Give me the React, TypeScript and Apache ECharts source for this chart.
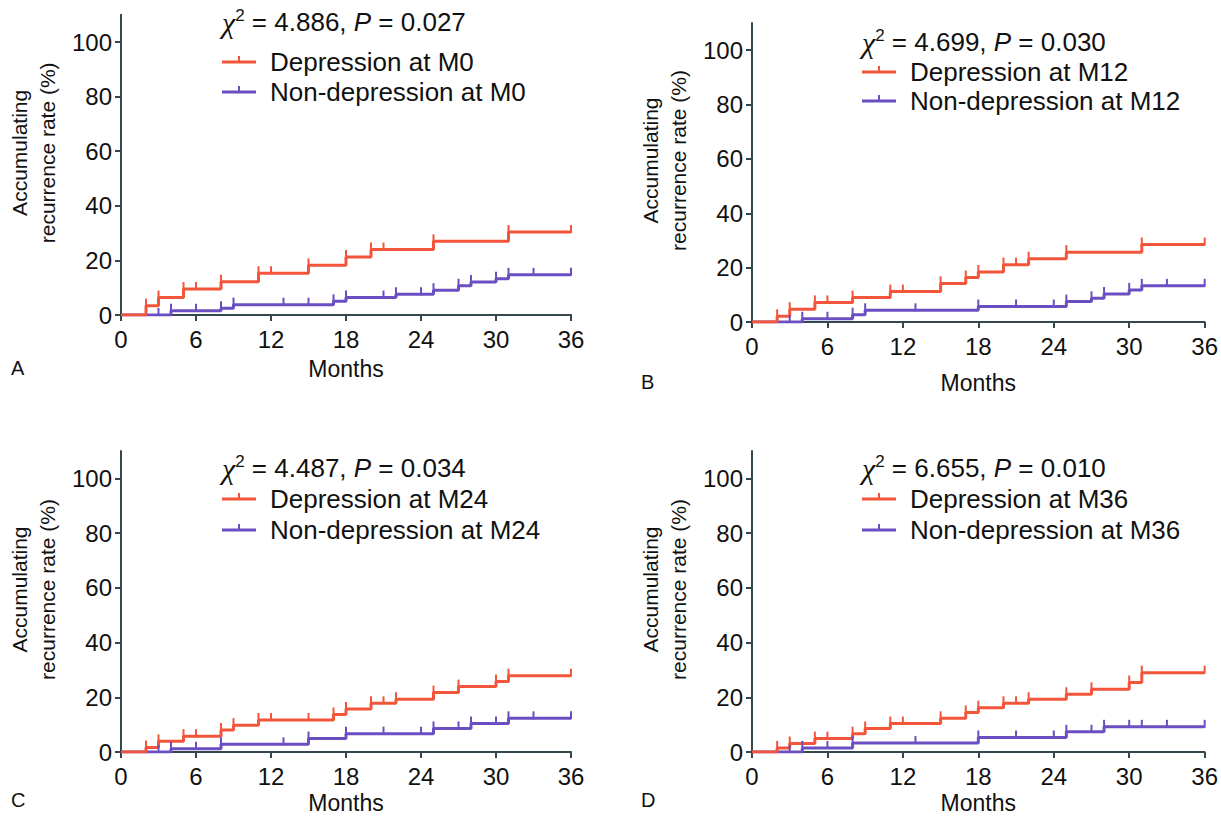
import React, { useEffect, useRef } from "react";
import * as echarts from "echarts";

// ---------- data (months, cumulative recurrence %) ----------
const xTicks = [0, 6, 12, 18, 24, 30, 36];
const yTicks = [0, 20, 40, 60, 80, 100];

const aDepT = [2, 3, 5, 8, 11, 15, 18, 20, 25, 31];
const aDepV = [3.4, 6.4, 9.5, 12.2, 15.3, 18.2, 21.2, 24, 27, 30.4];
const aDepC = [6, 12, 21, 36];
const aNonT = [4, 8, 9, 17, 18, 22, 25, 27, 28, 30, 31];
const aNonV = [1.6, 2.5, 3.8, 5, 6.4, 7.6, 9.1, 10.7, 12.1, 13.3, 14.7];
const aNonC = [3, 6, 13, 15, 21, 24, 33, 36];

const bDepT = [2, 3, 5, 8, 11, 15, 17, 18, 20, 22, 25, 31];
const bDepV = [2.1, 4.7, 7.2, 9, 11.2, 14.2, 16.4, 18.4, 21.1, 23.3, 25.7, 28.5];
const bDepC = [6, 12, 21, 36];
const bNonT = [4, 8, 9, 18, 25, 27, 28, 30, 31];
const bNonV = [1.2, 2.7, 4.3, 5.7, 7.5, 8.7, 10.3, 11.8, 13.3];
const bNonC = [3, 6, 13, 21, 24, 33, 36];

const cDepT = [2, 3, 5, 8, 9, 11, 17, 18, 20, 22, 25, 27, 30, 31];
const cDepV = [1.6, 3.9, 5.8, 8, 9.8, 11.7, 13.7, 15.7, 17.8, 19.3, 21.7, 23.9, 25.8, 27.9];
const cDepC = [6, 12, 15, 21, 36];
const cNonT = [4, 8, 15, 18, 25, 28, 31];
const cNonV = [1.2, 2.8, 4.9, 6.7, 8.6, 10.4, 12.3];
const cNonC = [3, 6, 13, 21, 24, 27, 30, 33, 36];

const dDepT = [2, 3, 5, 8, 9, 11, 15, 17, 18, 20, 22, 25, 27, 30, 31];
const dDepV = [1.5, 3.1, 4.9, 6.7, 8.6, 10.4, 12.3, 14.4, 16.2, 17.8, 19.3, 21.1, 22.9, 25.4, 29];
const dDepC = [6, 12, 21, 36];
const dNonT = [4, 8, 18, 25, 28];
const dNonV = [1.5, 3.3, 5.3, 7.4, 9.2];
const dNonC = [3, 6, 13, 21, 24, 27, 30, 31, 33, 36];

const panelLetters = ["A", "B", "C", "D"];
const timepoints = ["M0", "M12", "M24", "M36"];
const chiValues = ["4.886", "4.699", "4.487", "6.655"];
const pValues = ["0.027", "0.030", "0.034", "0.010"];

const depSets = [
  [aDepT, aDepV, aDepC],
  [bDepT, bDepV, bDepC],
  [cDepT, cDepV, cDepC],
  [dDepT, dDepV, dDepC],
];
const nonSets = [
  [aNonT, aNonV, aNonC],
  [bNonT, bNonV, bNonC],
  [cNonT, cNonV, cNonC],
  [dNonT, dNonV, dNonC],
];

// ---------- layout ----------
const RED = "#F2553A";
const PURPLE = "#6B4EC2";
const AXIS = "#33474d";
const FONT = "Liberation Sans, Arial, sans-serif";

const grids = [
  { left: 121, right: 650, top: 14.7, bottom: 506 },
  { left: 752, right: 16, top: 23, bottom: 499 },
  { left: 121, right: 650, top: 451, bottom: 69 },
  { left: 752, right: 16, top: 451, bottom: 69 },
];
const monthsGap = [42, 49, 39, 39];
const letterPos = [
  [11, 368],
  [641, 382],
  [11, 800],
  [641, 800],
];
const legendPos = [
  [222, 22, 62, 92],
  [862, 42, 72, 101],
  [222, 468, 499, 530],
  [862, 468, 499, 530],
];

function levelAt(times: number[], vals: number[], t: number) {
  let v = 0;
  for (let i = 0; i < times.length; i++) if (times[i] <= t) v = vals[i];
  return v;
}

function buildLine(times: number[], vals: number[], cens: number[]) {
  const pts: { x: number; y: number; o: number }[] = [];
  times.forEach((t, i) => pts.push({ x: t, y: vals[i], o: 0 }));
  cens.forEach((c) => pts.push({ x: c, y: levelAt(times, vals, c), o: 1 }));
  pts.sort((p, q) => p.x - q.x || p.o - q.o);
  const data: any[] = [{ value: [0, 0], symbol: "none" }];
  pts.forEach((p) => data.push({ value: [p.x, p.y] }));
  return data;
}

export default function App() {
  const ref = useRef<HTMLDivElement>(null);
  useEffect(() => {
    document.body.style.margin = "0";
    const chart = echarts.init(ref.current!, null, { renderer: "svg" });

    const xAxis: any[] = [];
    const yAxis: any[] = [];
    const series: any[] = [];
    const graphic: any[] = [];

    grids.forEach((g, i) => {
      xAxis.push({
        gridIndex: i,
        type: "value",
        min: 0,
        max: 36,
        interval: 6,
        axisLine: { show: true, onZero: false, lineStyle: { color: AXIS, width: 2 } },
        axisTick: { show: true, length: 6, lineStyle: { color: AXIS, width: 2 } },
        axisLabel: { fontSize: 24, color: "#111", margin: 12, fontFamily: FONT },
        splitLine: { show: false },
        name: "Months",
        nameLocation: "middle",
        nameGap: monthsGap[i],
        nameTextStyle: { fontSize: 23, color: "#111", fontFamily: FONT },
      });
      yAxis.push({
        gridIndex: i,
        type: "value",
        min: 0,
        max: 110,
        axisLine: { show: true, lineStyle: { color: AXIS, width: 2 } },
        axisTick: {
          show: true,
          length: 6,
          customValues: yTicks,
          lineStyle: { color: AXIS, width: 2 },
        },
        axisLabel: {
          fontSize: 24,
          color: "#111",
          margin: 9,
          fontFamily: FONT,
          customValues: yTicks,
        },
        splitLine: { show: false },
        name: "Accumulating\nrecurrence rate (%)",
        nameLocation: "middle",
        nameGap: 60,
        nameTextStyle: {
          fontSize: 21,
          color: "#111",
          fontFamily: FONT,
          lineHeight: 28,
          padding: [0, 0, 0, 24],
        },
      });

      const sets: [any[], string][] = [
        [nonSets[i], PURPLE],
        [depSets[i], RED],
      ];
      sets.forEach(([s, color]) => {
        series.push({
          type: "line",
          xAxisIndex: i,
          yAxisIndex: i,
          step: "end",
          data: buildLine(s[0], s[1], s[2]),
          showSymbol: true,
          symbol: "rect",
          symbolSize: [2, 8],
          symbolOffset: [0, -3],
          itemStyle: { color },
          lineStyle: { color, width: 3 },
          silent: true,
        });
      });

      const [lx, y0, y1, y2] = legendPos[i];
      graphic.push({
        type: "text",
        x: lx,
        y: y0,
        style: {
          text: `{c|χ}{s|2}{n| = ${chiValues[i]}, }{p|P}{n| = ${pValues[i]}}`,
          verticalAlign: "middle",
          fill: "#111",
          rich: {
            c: { fontSize: 30, fontStyle: "italic", fontFamily: "Liberation Serif, serif", fill: "#111" },
            s: { fontSize: 17, verticalAlign: "top", fontFamily: FONT, fill: "#111" },
            n: { fontSize: 26, fontFamily: FONT, fill: "#111" },
            p: { fontSize: 26, fontStyle: "italic", fontFamily: FONT, fill: "#111" },
          },
        },
      });
      const rows: [number, string, string][] = [
        [y1, RED, `Depression at ${timepoints[i]}`],
        [y2, PURPLE, `Non-depression at ${timepoints[i]}`],
      ];
      rows.forEach(([yy, color, label]) => {
        graphic.push({
          type: "line",
          shape: { x1: lx, y1: yy, x2: lx + 34, y2: yy },
          style: { stroke: color, lineWidth: 3 },
        });
        graphic.push({
          type: "line",
          shape: { x1: lx + 17, y1: yy, x2: lx + 17, y2: yy - 6 },
          style: { stroke: color, lineWidth: 2 },
        });
        graphic.push({
          type: "text",
          x: lx + 48,
          y: yy,
          style: {
            text: label,
            fontSize: 26,
            fontFamily: FONT,
            fill: "#111",
            verticalAlign: "middle",
          },
        });
      });
      graphic.push({
        type: "text",
        x: letterPos[i][0],
        y: letterPos[i][1],
        style: {
          text: panelLetters[i],
          fontSize: 20,
          fontFamily: FONT,
          fill: "#111",
          verticalAlign: "middle",
        },
      });
    });

    chart.setOption({
      animation: false,
      backgroundColor: "#ffffff",
      grid: grids.map((g) => ({ ...g, containLabel: false })),
      xAxis,
      yAxis,
      series,
      graphic,
    });
    return () => chart.dispose();
  }, []);
  return <div ref={ref} style={{ width: 1221, height: 821 }} />;
}
